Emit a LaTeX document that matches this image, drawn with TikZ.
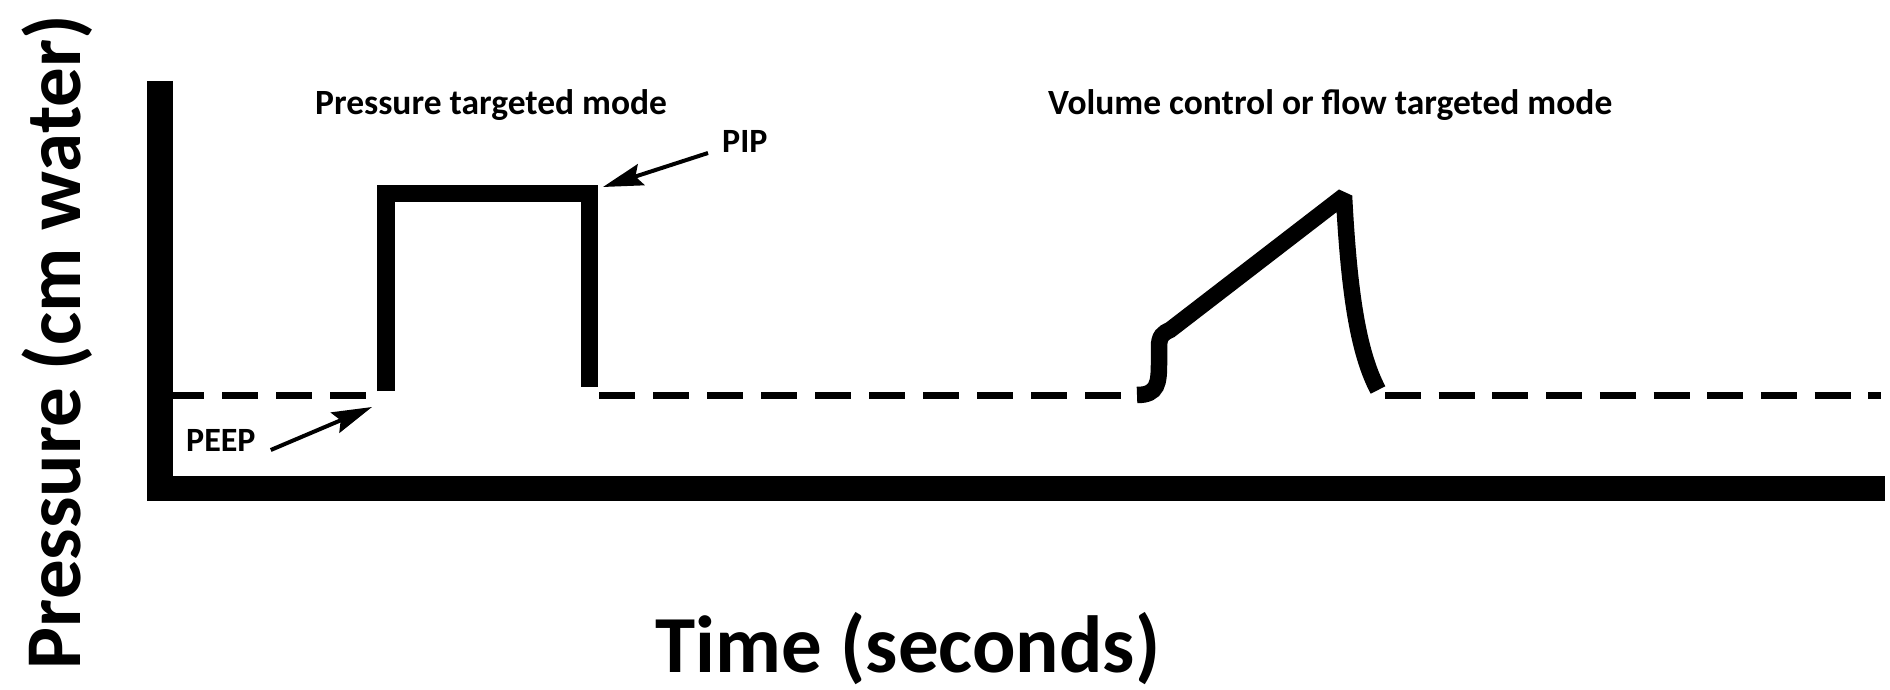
\documentclass[tikz,border=0pt]{standalone}
\usepackage{fontspec}
\setmainfont{Carlito}
\usetikzlibrary{arrows.meta}
\begin{document}
\begin{tikzpicture}[x=1pt,y=-1pt,
  axisline/.style={line width=25.5pt, line join=miter, line cap=butt},
  trace/.style={line width=17.5pt, line join=miter, line cap=butt},
  baseline dash/.style={line width=7.5pt, dash pattern=on 36pt off 18pt},
  lbl/.style={inner sep=0pt, font=\bfseries\fontsize{35.5}{40}\selectfont},
  tag/.style={inner sep=0pt, font=\bfseries\fontsize{34}{40}\selectfont},
  axlbl/.style={inner sep=0pt, font=\bfseries\fontsize{79}{90}\selectfont},
  pointer/.style={line width=4pt, -{Stealth[length=40pt,width=22pt,inset=6pt]}}]
\useasboundingbox[fill=white] (0,0) rectangle (1890,690);
% axes
\draw[axisline] (160,81) -- (160,488.5) -- (1885,488.5);
% PEEP baseline (dashed)
\begin{scope}
\clip (173,380) rectangle (366,410);
\draw[baseline dash] (168,395.5) -- (366,395.5);
\end{scope}
\draw[baseline dash] (599,395.5) -- (1122,395.5);
\draw[baseline dash, dash pattern=on 36pt off 17.7pt] (1385,395.5) -- (1881,395.5);
% pressure targeted pulse
\draw[trace] (386,391) -- (386,193.5) -- (589.5,193.5) -- (589.5,387);
% volume / flow targeted waveform
\draw[trace, line width=16.5pt, miter limit=2] (1137,395) .. controls (1158,395) and (1159,383) .. (1159,362)
  -- (1159,347) .. controls (1159,336) and (1163,333) .. (1170,330)
  -- (1344,196) .. controls (1349,292) and (1358,352) .. (1378,390);
% titles
\node[lbl, anchor=base west] (ptitle) at (315,115) {Pressure targeted mode};
\node[lbl, anchor=base west] (vtitle) at (1048,115) {Volume control or flow targeted mode};
% labels and pointers
\node[tag, anchor=base west] (pip) at (722,153) {PIP};
\node[tag, anchor=base west] (peep) at (186,451) {PEEP};
\coordinate (piptip) at (603,187);
\coordinate (peeptip) at (372,407);
\draw[pointer] ([xshift=-14pt]pip.base west) -- (piptip);
\draw[pointer] ([xshift=15pt,yshift=1pt]peep.base east) -- (peeptip);
% axis titles
\node[axlbl, rotate=90, anchor=base] (ylab) at (80,342) {Pressure (cm water)};
\node[axlbl, font=\bfseries\fontsize{81}{90}\selectfont, anchor=base] (xlab) at (908,672) {Time (seconds)};
\end{tikzpicture}
\end{document}
